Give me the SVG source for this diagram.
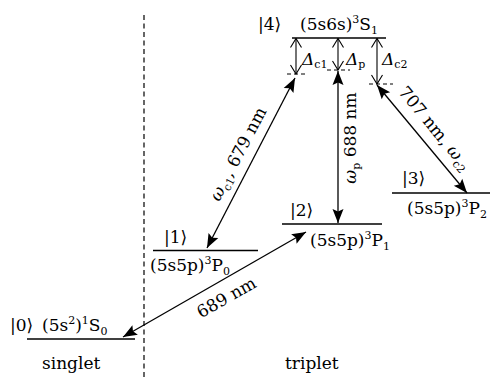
<svg xmlns="http://www.w3.org/2000/svg" width="491" height="378" viewBox="0 0 491 378">
<style>
text{font-family:"DejaVu Serif","Liberation Serif",serif;font-size:17px;fill:#000}
.it{font-style:italic}
.s{font-size:11px}
.lvl{stroke:#000;stroke-width:1.5;fill:none}
.arr{stroke:#000;stroke-width:1.3;fill:none;marker-start:url(#fh);marker-end:url(#fh)}
.del{stroke:#000;stroke-width:1.1;fill:none;marker-start:url(#oh);marker-end:url(#oh)}
.tick{stroke:#000;stroke-width:1;stroke-dasharray:4 3;fill:none}
</style>
<defs>
<marker id="fh" markerUnits="userSpaceOnUse" viewBox="-15 -7 16 14" refX="0" refY="0" markerWidth="16" markerHeight="14" orient="auto-start-reverse">
<path d="M0,0 L-14,-5.5 L-11.5,0 L-14,5.5 Z" fill="#000"/>
</marker>
<marker id="oh" markerUnits="userSpaceOnUse" viewBox="-11 -7 12 14" refX="0" refY="0" markerWidth="12" markerHeight="14" orient="auto-start-reverse">
<path d="M-9,-5.5 L0,0 L-9,5.5" fill="none" stroke="#000" stroke-width="1.1"/>
</marker>
</defs>

<line x1="144" y1="15" x2="144" y2="378" stroke="#000" stroke-width="1.2" stroke-dasharray="5 3.5"/>

<g id="level0">
<line class="lvl" x1="27" y1="339" x2="135" y2="339"/>
<text x="10" y="331">|0⟩</text>
<text x="42" y="331">(5s<tspan class="s" dy="-7">2</tspan><tspan dy="7">)</tspan><tspan class="s" dy="-7">1</tspan><tspan dy="7">S</tspan><tspan class="s" dy="4">0</tspan></text>
</g>

<g id="level1">
<line class="lvl" x1="153" y1="250.5" x2="258" y2="250.5"/>
<text x="164" y="243">|1⟩</text>
<text x="150" y="271">(5s5p)<tspan class="s" dy="-7">3</tspan><tspan dy="7">P</tspan><tspan class="s" dy="4">0</tspan></text>
</g>

<g id="level2">
<line class="lvl" x1="282" y1="224" x2="382" y2="224"/>
<text x="290" y="216">|2⟩</text>
<text x="310" y="246">(5s5p)<tspan class="s" dy="-7">3</tspan><tspan dy="7">P</tspan><tspan class="s" dy="4">1</tspan></text>
</g>

<g id="level3">
<line class="lvl" x1="392" y1="193" x2="490" y2="193"/>
<text x="402" y="184">|3⟩</text>
<text x="407" y="214">(5s5p)<tspan class="s" dy="-7">3</tspan><tspan dy="7">P</tspan><tspan class="s" dy="4">2</tspan></text>
</g>

<g id="level4">
<line class="lvl" x1="292" y1="38" x2="386" y2="38"/>
<text x="258" y="30">|4⟩</text>
<text x="300" y="30">(5s6s)<tspan class="s" dy="-7">3</tspan><tspan dy="7">S</tspan><tspan class="s" dy="4">1</tspan></text>
</g>

<g id="detunings">
<line class="del" x1="296" y1="38.5" x2="296" y2="74"/>
<line class="tick" x1="287" y1="74" x2="306" y2="74"/>
<line class="del" x1="338" y1="38.5" x2="338" y2="70"/>
<line class="tick" x1="327" y1="70" x2="350" y2="70"/>
<line class="del" x1="377" y1="38.5" x2="377" y2="84"/>
<line class="tick" x1="369" y1="84" x2="393" y2="84"/>
<text x="302" y="65"><tspan class="it">Δ</tspan><tspan class="s" dy="3">c1</tspan></text>
<text x="346" y="65"><tspan class="it">Δ</tspan><tspan class="s" dy="3">p</tspan></text>
<text x="382" y="65"><tspan class="it">Δ</tspan><tspan class="s" dy="3">c2</tspan></text>
</g>

<g id="connectors">
<line class="arr" x1="207" y1="248" x2="295" y2="78"/>
<line class="arr" x1="338" y1="71" x2="338" y2="223"/>
<line class="arr" x1="377" y1="85" x2="467" y2="193"/>
<line class="arr" x1="123" y1="337" x2="306" y2="232"/>
</g>

<g id="labels">
<text transform="translate(251,163) rotate(-62.4)" x="2" y="-10" text-anchor="middle"><tspan class="it">ω</tspan><tspan class="s" dy="4">c1</tspan><tspan dy="-4">, 679 nm</tspan></text>
<text transform="translate(356,138) rotate(-90)" text-anchor="middle"><tspan class="it">ω</tspan><tspan class="s" dy="4">p</tspan><tspan dy="-4"> 688 nm</tspan></text>
<text transform="translate(422,139) rotate(50.5)" x="0" y="-11" text-anchor="middle">707 nm, <tspan class="it">ω</tspan><tspan class="s" dy="4">c2</tspan></text>
<text transform="translate(214.5,284.5) rotate(-29.6)" x="4" y="23" text-anchor="middle">689 nm</text>
<text x="42" y="369">singlet</text>
<text x="285" y="369">triplet</text>
</g>
</svg>
